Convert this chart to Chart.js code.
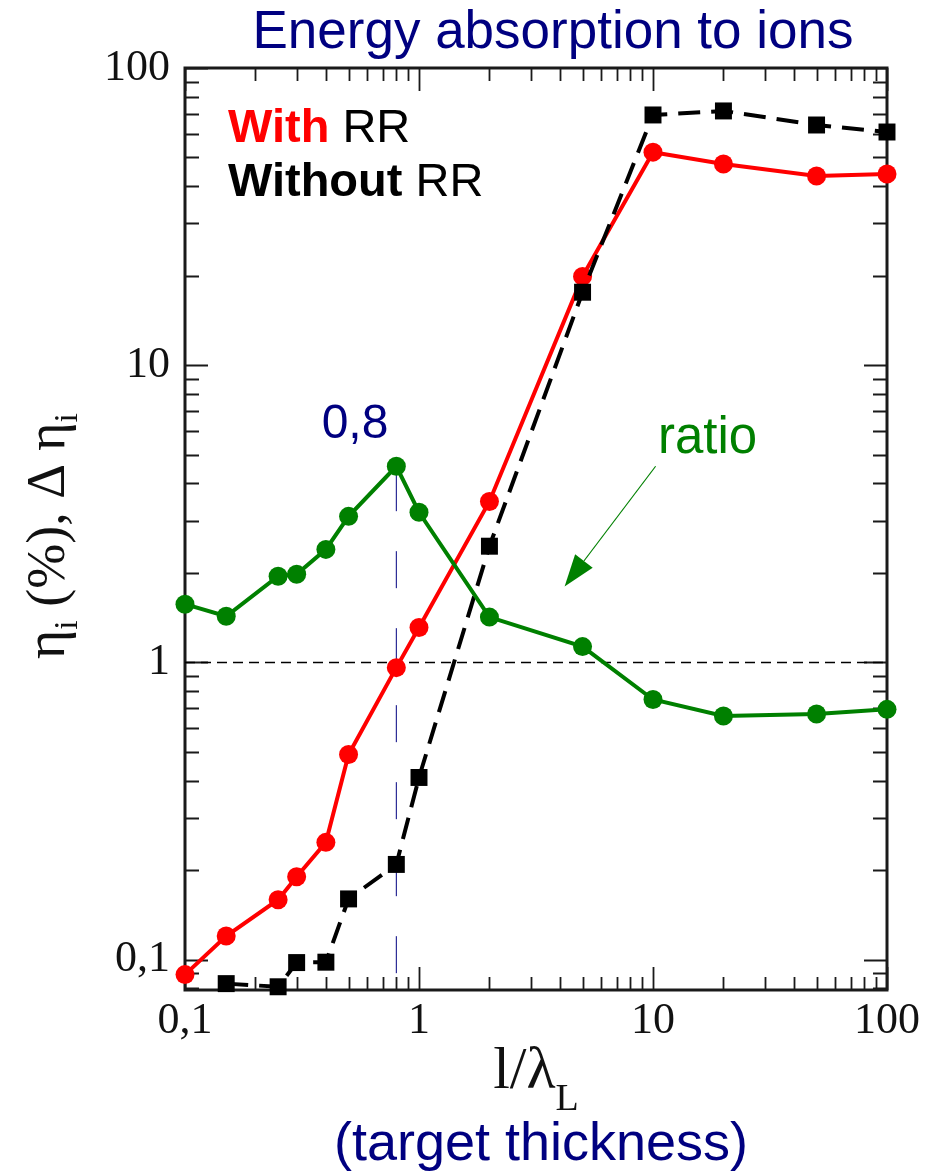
<!DOCTYPE html>
<html>
<head>
<meta charset="utf-8">
<title>Energy absorption to ions</title>
<script src="https://cdn.jsdelivr.net/npm/chart.js@4.4.0/dist/chart.umd.min.js"></script>
<style>
    html, body { margin: 0; padding: 0; background: #fff; }
    #wrap { width: 927px; height: 1173px; }
</style>
</head>
<body>
<div id="wrap"><canvas id="absorptionChart" width="927" height="1173"></canvas></div>
<script>
// target thickness l/lambda_L
const thickness = [0.1, 0.15, 0.25, 0.3, 0.4, 0.5, 0.8, 1, 2, 5, 10, 20, 50, 100];
// ion absorption eta_i (%) with and without radiation reaction, and their ratio
const withRR = [0.089, 0.12, 0.159, 0.19, 0.248, 0.49, 0.96, 1.31, 3.48, 19.9, 52.1, 47.5, 43.3, 44.0];
const withoutRR = [null, 0.083, 0.081, 0.0977, 0.098, 0.16, 0.209, 0.41, 2.46, 17.6, 69.5, 71.7, 64.3, 60.9];
const ratioRR = [1.57, 1.43, 1.95, 1.98, 2.40, 3.10, 4.57, 3.20, 1.42, 1.13, 0.75, 0.66, 0.67, 0.695];

const decades = [0.1, 1, 10, 100];
const decadeLabels = ['0,1', '1', '10', '100'];

const unityLevel = 1;
const peakThickness = 0.8;
const peakLabel = '0,8';
const peakLineBottom = 0.09;

// arrow pointing at the ratio curve, in data units
const arrowTail = { x: 10.26, y: 4.57 };
const arrowTip = { x: 4.19, y: 1.80 };

const NAVY = '#000080';
const GREEN = '#008000';

function toPoints(ys) {
    return thickness.map((x, i) => ({ x: x, y: ys[i] })).filter(p => p.y !== null);
}

function logTicks(min, max) {
    const out = [];
    for (let e = -2; e <= 2; e++) {
        for (let m = 1; m <= 9; m++) {
            const v = Number((m * Math.pow(10, e)).toPrecision(6));
            if (v >= min - 1e-9 && v <= max + 1e-9) out.push({ value: v });
        }
    }
    return out;
}

function isDecade(v) {
    const l = Math.log10(v);
    return Math.abs(l - Math.round(l)) < 1e-6;
}

function decadeLabel(value) {
    const i = decades.findIndex(d => Math.abs(d - value) < 1e-9);
    return i >= 0 ? decadeLabels[i] : '';
}

// draws a run of text pieces (for subscripts) centred on x
function drawRich(ctx, parts, x, y) {
    let total = 0;
    parts.forEach(p => { ctx.font = p.font; total += ctx.measureText(p.text).width; });
    let cx = x - total / 2;
    ctx.textAlign = 'left';
    ctx.textBaseline = 'alphabetic';
    parts.forEach(p => {
        ctx.font = p.font;
        ctx.fillText(p.text, cx, y + (p.dy || 0));
        cx += ctx.measureText(p.text).width;
    });
}

const frameAndTicks = {
    id: 'frameAndTicks',
    beforeDatasetsDraw(chart) {
        const { ctx, chartArea: a, scales: { x, y } } = chart;
        ctx.save();
        ctx.strokeStyle = '#1a1a1a';
        ctx.lineWidth = 1.8;
        ctx.beginPath();
        x.ticks.forEach(t => {
            const px = Math.round(x.getPixelForValue(t.value)) + 0.5;
            const len = isDecade(t.value) ? 23 : 13;
            ctx.moveTo(px, a.bottom); ctx.lineTo(px, a.bottom - len);
            ctx.moveTo(px, a.top); ctx.lineTo(px, a.top + len);
        });
        y.ticks.forEach(t => {
            const py = Math.round(y.getPixelForValue(t.value)) + 0.5;
            const len = isDecade(t.value) ? 23 : 14;
            ctx.moveTo(a.left, py); ctx.lineTo(a.left + len, py);
            ctx.moveTo(a.right, py); ctx.lineTo(a.right - len, py);
        });
        ctx.stroke();
        ctx.lineWidth = 3;
        ctx.strokeRect(a.left, a.top, a.right - a.left, a.bottom - a.top);
        ctx.restore();
    }
};

const labelsAndNotes = {
    id: 'labelsAndNotes',
    afterDraw(chart) {
        const { ctx, chartArea: a, scales: { x, y } } = chart;
        ctx.save();

        // title
        ctx.fillStyle = NAVY;
        ctx.font = '53px "Liberation Sans", Arial, sans-serif';
        ctx.textAlign = 'center';
        ctx.textBaseline = 'alphabetic';
        ctx.fillText('Energy absorption to ions', 553, 48);

        // series key
        ctx.textAlign = 'left';
        ctx.font = 'bold 47px "Liberation Sans", Arial, sans-serif';
        ctx.fillStyle = '#ff0000';
        ctx.fillText('With', 228, 142);
        let w = ctx.measureText('With ').width;
        ctx.font = '47px "Liberation Sans", Arial, sans-serif';
        ctx.fillStyle = '#000';
        ctx.fillText('RR', 228 + w, 142);
        ctx.font = 'bold 47px "Liberation Sans", Arial, sans-serif';
        ctx.fillText('Without', 228, 196);
        w = ctx.measureText('Without ').width;
        ctx.font = '47px "Liberation Sans", Arial, sans-serif';
        ctx.fillText('RR', 228 + w, 196);

        // peak marker label
        ctx.fillStyle = NAVY;
        ctx.font = '48px "Liberation Sans", Arial, sans-serif';
        ctx.textAlign = 'center';
        ctx.fillText(peakLabel, 355, 438);

        // ratio note with arrow
        ctx.fillStyle = GREEN;
        ctx.font = '51px "Liberation Sans", Arial, sans-serif';
        ctx.textAlign = 'left';
        ctx.fillText('ratio', 658, 453);

        const tx = x.getPixelForValue(arrowTail.x), ty = y.getPixelForValue(arrowTail.y);
        const hx = x.getPixelForValue(arrowTip.x), hy = y.getPixelForValue(arrowTip.y);
        const ang = Math.atan2(hy - ty, hx - tx);
        const headLen = 32, headHalf = 11;
        const bx = hx - headLen * Math.cos(ang), by = hy - headLen * Math.sin(ang);
        ctx.strokeStyle = GREEN;
        ctx.lineWidth = 1.2;
        ctx.beginPath();
        ctx.moveTo(tx, ty);
        ctx.lineTo(bx, by);
        ctx.stroke();
        ctx.beginPath();
        ctx.moveTo(hx, hy);
        ctx.lineTo(bx + headHalf * Math.sin(ang), by - headHalf * Math.cos(ang));
        ctx.lineTo(bx - headHalf * Math.sin(ang), by + headHalf * Math.cos(ang));
        ctx.closePath();
        ctx.fill();

        // axis titles
        const serif = '"Liberation Serif", "Times New Roman", serif';
        ctx.fillStyle = '#111';
        drawRich(ctx, [
            { text: 'l/λ', font: '60px ' + serif },
            { text: 'L', font: '38px ' + serif, dy: 22 }
        ], 536, 1088);

        ctx.save();
        ctx.translate(64, 536);
        ctx.rotate(-Math.PI / 2);
        drawRich(ctx, [
            { text: 'η', font: '56px ' + serif },
            { text: 'i', font: '34px ' + serif, dy: 13 },
            { text: ' (%), Δ η', font: '54px ' + serif },
            { text: 'i', font: '34px ' + serif, dy: 13 }
        ], 0, 0);
        ctx.restore();

        ctx.fillStyle = NAVY;
        ctx.font = '54px "Liberation Sans", Arial, sans-serif';
        ctx.textAlign = 'center';
        ctx.fillText('(target thickness)', 541, 1160);

        ctx.restore();
    }
};

const ctx = document.getElementById('absorptionChart').getContext('2d');
new Chart(ctx, {
    type: 'scatter',
    data: {
        datasets: [
            {
                label: 'unity',
                data: [{ x: 0.1, y: unityLevel }, { x: 100, y: unityLevel }],
                showLine: true,
                borderColor: '#000',
                borderWidth: 1.5,
                borderDash: [10, 6],
                pointRadius: 0,
                order: 5
            },
            {
                label: 'peak',
                data: [{ x: peakThickness, y: peakLineBottom }, { x: peakThickness, y: ratioRR[thickness.indexOf(peakThickness)] }],
                showLine: true,
                borderColor: NAVY,
                borderWidth: 1,
                borderDash: [37, 40],
                pointRadius: 0,
                order: 4
            },
            {
                label: 'With RR',
                data: toPoints(withRR),
                showLine: true,
                borderColor: '#ff0000',
                backgroundColor: '#ff0000',
                borderWidth: 4,
                pointStyle: 'circle',
                pointRadius: 9.5,
                pointBorderWidth: 0,
                clip: false,
                order: 3
            },
            {
                label: 'Without RR',
                data: toPoints(withoutRR),
                showLine: true,
                borderColor: '#000',
                backgroundColor: '#000',
                borderWidth: 4,
                borderDash: [22, 11],
                pointStyle: 'rect',
                pointRadius: 12,
                pointBorderWidth: 0,
                clip: false,
                order: 2
            },
            {
                label: 'ratio',
                data: toPoints(ratioRR),
                showLine: true,
                borderColor: GREEN,
                backgroundColor: GREEN,
                borderWidth: 4,
                pointStyle: 'circle',
                pointRadius: 9.5,
                pointBorderWidth: 0,
                clip: false,
                order: 1
            }
        ]
    },
    options: {
        responsive: false,
        animation: false,
        devicePixelRatio: 1,
        layout: { padding: { left: 0, top: 68, right: 40, bottom: 0 } },
        plugins: { legend: { display: false }, tooltip: { enabled: false } },
        scales: {
            x: {
                type: 'logarithmic',
                min: 0.1,
                max: 100,
                grid: { display: false, drawTicks: false },
                border: { display: false },
                afterBuildTicks: scale => { scale.ticks = logTicks(0.1, 100); },
                afterFit: scale => { scale.height = 183; },
                ticks: {
                    autoSkip: false,
                    maxRotation: 0,
                    padding: 5,
                    color: '#111',
                    font: { family: 'Liberation Serif', size: 44 },
                    callback: value => decadeLabel(value)
                }
            },
            y: {
                type: 'logarithmic',
                min: 0.079,
                max: 100,
                grid: { display: false, drawTicks: false },
                border: { display: false },
                afterBuildTicks: scale => { scale.ticks = logTicks(0.079, 100); },
                afterFit: scale => { scale.width = 185; },
                ticks: {
                    autoSkip: false,
                    padding: 15,
                    color: '#111',
                    font: { family: 'Liberation Serif', size: 44 },
                    callback: value => decadeLabel(value)
                }
            }
        }
    },
    plugins: [frameAndTicks, labelsAndNotes]
});
</script>
</body>
</html>
